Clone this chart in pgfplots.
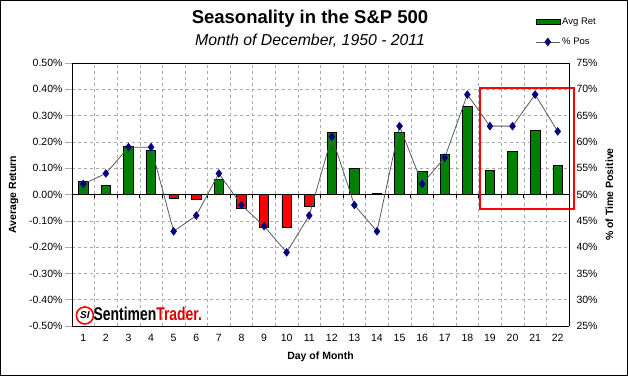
\documentclass[border=0pt]{standalone}
\usepackage{pgfplots}
\pgfplotsset{compat=1.18}
\usepackage{fontspec}
\setmainfont{Liberation Sans}
\definecolor{xgreen}{RGB}{0,128,0}
\definecolor{xred}{RGB}{255,0,0}
\definecolor{xnavy}{RGB}{0,0,128}
\definecolor{xline}{RGB}{90,90,90}
\definecolor{xgrid}{RGB}{170,170,170}
\pgfplotsset{mylineleg/.style={legend image code/.code={\draw[mark repeat=2,mark phase=2,##1] plot coordinates {(0pt,0pt) (12pt,0pt) (24pt,0pt)};}}}

\pgfplotstableread{
day ret
1 0.049
2 0.034
3 0.183
4 0.168
7 0.058
12 0.236
13 0.099
14 0.003
15 0.236
16 0.087
17 0.152
18 0.336
19 0.092
20 0.165
21 0.243
22 0.110
}\posret
\pgfplotstableread{
day ret
5 -0.015
6 -0.019
8 -0.051
9 -0.125
10 -0.125
11 -0.046
}\negret
\pgfplotstableread{
day pos
1 52
2 54
3 59
4 59
5 43
6 46
7 54
8 48
9 44
10 39
11 46
12 61
13 48
14 43
15 63
16 52
17 57
18 69
19 63
20 63
21 69
22 62
}\pctpos

\begin{document}
\begin{tikzpicture}[x=1pt,y=1pt]
\useasboundingbox (0,0) rectangle (628,376);
\draw[line width=1pt] (0.5,0.5) rectangle (627.5,375.5);
\node[font=\fontsize{18.5}{20}\selectfont\bfseries] at (310,357) {Seasonality in the S\&P 500};
\node[font=\fontsize{15.8}{18}\selectfont\itshape] at (310,335) {Month of December, 1950 - 2011};

\begin{axis}[
  at={(72pt,50pt)}, anchor=south west,
  scale only axis, width=497pt, height=263pt,
  xmin=0.5, xmax=22.5, ymin=-0.5, ymax=0.5,
  clip=false,
  axis line style={black, line width=0.8pt},
  xtick={1,...,22},
  minor xtick={1.5,2.5,...,21.5},
  xminorgrids, ymajorgrids,
  grid style={xgrid, dashed, line width=0.5pt},
  minor grid style={xgrid, dashed, line width=0.5pt},
  major tick length=0pt, minor tick length=0pt,
  ytick={-0.5,-0.4,...,0.5},
  yticklabel={\pgfmathprintnumber[fixed,fixed zerofill,precision=2,assume math mode=true]{\tick}\%},
  xticklabel={\pgfmathprintnumber[assume math mode=true]{\tick}},
  ticklabel style={font=\fontsize{10.5}{12}\selectfont},
  xticklabel style={yshift=-5pt},
  yticklabel style={xshift=-6pt},
  axis y line*=left,
  xlabel={Day of Month},
  ylabel={Average Return},
  label style={font=\fontsize{10.5}{12}\selectfont\bfseries},
  xlabel style={yshift=-3pt},
  ylabel style={yshift=4pt},
  ybar, bar width=9.5pt, bar shift=0pt,
]
\addplot[fill=xgreen, draw=black, line width=0.7pt] table[x=day,y=ret]{\posret};
\addplot[fill=xred, draw=black, line width=0.7pt] table[x=day,y=ret]{\negret};
\draw[black, line width=0.9pt] (axis cs:0.5,0) -- (axis cs:22.5,0);
\pgfplotsinvokeforeach{1.5,2.5,3.5,4.5,5.5,6.5,7.5,8.5,9.5,10.5,11.5,12.5,13.5,14.5,15.5,16.5,17.5,18.5,19.5,20.5,21.5}{\draw[black, line width=0.8pt] (axis cs:#1,0) -- (axis cs:#1,-0.015);}
\pgfplotsinvokeforeach{-0.5,-0.4,-0.3,-0.2,-0.1,0,0.1,0.2,0.3,0.4,0.5}{\draw[xgrid, line width=0.6pt] (axis cs:0.5,#1) -- (axis cs:0.2,#1);}
\draw[black, line width=0.8pt] (axis cs:0.5,0.5) -- (axis cs:22.5,0.5);
\draw[black, line width=0.8pt] (axis cs:0.5,-0.5) -- (axis cs:22.5,-0.5);
\draw[black, line width=0.8pt] (axis cs:0.5,-0.5) -- (axis cs:0.5,0.5);
\draw[xred, line width=2.8pt] (axis cs:18.56,-0.055) rectangle (axis cs:22.72,0.405);
% logo
\draw[xred, line width=1.6pt, fill=white] (axis cs:1.07,-0.46) circle (8.5pt);
\node[font=\fontsize{10}{10}\selectfont\bfseries\itshape] at (axis cs:1.07,-0.46) {SI};
\node[anchor=west, inner sep=0pt, font=\fontsize{16}{16}\selectfont\bfseries] at (axis cs:1.45,-0.455) {\scalebox{0.87}[1.15]{Sentimen\textcolor{xred!85!black}{Trader.}}};
\end{axis}

\begin{axis}[
  at={(72pt,50pt)}, anchor=south west,
  scale only axis, width=497pt, height=263pt,
  xmin=0.5, xmax=22.5, ymin=25, ymax=75,
  axis x line=none,
  axis y line*=right,
  axis line style={black, line width=0.8pt},
  major tick length=0pt,
  ytick={25,30,...,75},
  yticklabel={\pgfmathprintnumber[assume math mode=true]{\tick}\%},
  ticklabel style={font=\fontsize{10.5}{12}\selectfont},
  yticklabel style={xshift=4pt},
  ylabel={\% of Time Positive},
  ylabel style={font=\fontsize{10.5}{12}\selectfont\bfseries, yshift=-1pt},
  legend style={at={(0.932,1.18)}, anchor=north west, draw=none, fill=none,
    font=\fontsize{9.5}{11}\selectfont, row sep=8pt, inner sep=0pt,
    /tikz/every even column/.append style={column sep=3pt}},
  legend cell align=left,
]
\addlegendimage{legend image code/.code={\draw[fill=xgreen,draw=black,line width=0.6pt] (0pt,-2.5pt) rectangle (24pt,2.5pt);}}
\addlegendentry{Avg Ret}
\addplot[xline, line width=0.8pt, mark=diamond*, mark size=4pt,
  mark options={fill=xnavy, draw=xnavy, line width=0.4pt}, mylineleg]
  table[x=day,y=pos]{\pctpos};
\addlegendentry{\% Pos}
\end{axis}
\end{tikzpicture}
\end{document}
